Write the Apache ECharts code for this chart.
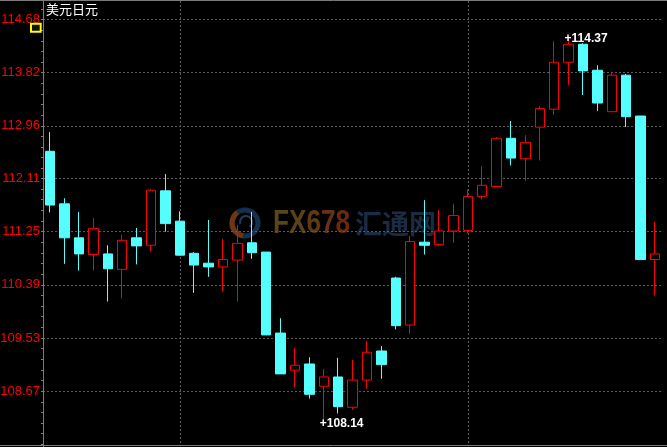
<!DOCTYPE html>
<html><head><meta charset="utf-8">
<script src="https://cdn.jsdelivr.net/npm/echarts@6/dist/echarts.min.js"></script>
<style>html,body{margin:0;padding:0;background:#000}#c{width:667px;height:447px}</style>
</head><body><div id="c"></div>
<script>
const chartTitle = '美元日元';
const categories = ['1','2','3','4','5','6','7','8','9','10','11','12','13','14','15','16','17','18','19','20','21','22','23','24','25','26','27','28','29','30','31','32','33','34','35','36','37','38','39','40','41','42','43'];
const opens  = [112.55,111.70,111.15,110.88,110.89,110.64,111.15,111.03,111.91,111.42,110.90,110.74,110.68,110.79,111.07,110.92,109.61,109.01,109.11,108.75,108.90,108.41,108.85,109.32,110.50,109.74,111.08,111.04,111.26,111.27,111.82,111.98,112.76,112.43,112.94,113.23,113.99,114.28,113.86,113.19,113.78,113.12,110.80];
const closes = [111.68,111.15,110.89,111.30,110.65,111.11,111.02,111.92,111.38,110.87,110.71,110.68,110.80,111.06,110.91,109.58,108.95,109.09,108.62,108.90,108.42,108.85,109.30,109.10,109.73,111.09,111.03,111.26,111.51,111.82,112.00,112.76,112.44,112.69,113.24,113.99,114.28,113.85,113.33,113.78,113.11,110.80,110.89];
const lows   = [111.56,110.73,110.62,110.62,110.12,110.17,110.72,110.93,111.25,110.86,110.26,110.52,110.28,110.12,110.81,109.58,108.95,108.73,108.55,108.14,108.31,108.37,108.71,108.87,109.67,109.60,110.88,111.02,111.07,111.22,111.77,111.98,112.32,112.07,112.40,113.14,113.62,113.46,113.20,113.19,112.94,110.80,110.22];
const highs  = [112.86,111.79,111.57,111.47,111.03,111.20,111.31,111.94,112.18,111.58,110.92,111.44,111.13,111.36,111.57,110.92,109.85,109.37,109.22,109.03,109.21,109.18,109.48,109.40,110.52,111.18,111.76,111.60,111.70,111.93,112.31,112.78,113.04,112.81,113.28,114.33,114.37,114.30,113.94,113.84,113.80,113.12,111.41];
const yTickLabels = ['114.68','113.82','112.96','112.11','111.25','110.39','109.53','108.67'];
const vGridIndex = [9, 29];
const yMin = 107.80, yMax = 114.98;

const yTicks = yTickLabels.map(Number);
const minorTicks = [];
const nT = yTicks.length;
const minorStep = (yTicks[0] - yTicks[nT - 1]) / (nT - 1) / 5;
for (let v = yTicks[nT - 1] - minorStep; v > yMin; v -= minorStep) minorTicks.push(+v.toFixed(4));
for (let i = 0; i < nT - 1; i++) {
  for (let k = 0; k < 5; k++) minorTicks.push(+(yTicks[i + 1] + (yTicks[i] - yTicks[i + 1]) * k / 5).toFixed(4));
}
for (let v = yTicks[0]; v < yMax; v += minorStep) minorTicks.push(+v.toFixed(4));

const kData = categories.map((c, i) => [opens[i], closes[i], lows[i], highs[i]]);
let maxIdx = 0, minIdx = 0;
highs.forEach((v, i) => { if (v > highs[maxIdx]) maxIdx = i; });
lows.forEach((v, i) => { if (v < lows[minIdx]) minIdx = i; });

const chart = echarts.init(document.getElementById('c'), null, {renderer: 'canvas'});
const grid = {left: 43, right: 4.8, top: 1, bottom: 2, outerBoundsMode: 'none', containLabel: false};
const gridStyle = {color: '#5c5c5c', width: 1, type: [2, 2]};
const labelFont = '"Liberation Sans", Arial, sans-serif';

chart.setOption({
  animation: false,
  backgroundColor: '#000000',
  grid: grid,
  xAxis: [
    {type: 'category', data: categories, gridIndex: 0, boundaryGap: true,
     axisLine: {show: false}, axisTick: {show: false}, axisLabel: {show: false}, splitLine: {show: false}},
    {type: 'value', gridIndex: 0, position: 'top', min: -0.5, max: categories.length - 0.5,
     axisLine: {show: false}, axisLabel: {show: false},
     axisTick: {show: false, customValues: vGridIndex},
     splitLine: {show: true, lineStyle: gridStyle}}
  ],
  yAxis: [
    {type: 'value', min: yMin, max: yMax, position: 'left',
     axisLine: {show: false},
     axisTick: {show: false, customValues: yTicks},
     axisLabel: {show: true, customValues: yTicks, margin: 3, color: '#ff0000',
                 fontSize: 13, fontFamily: labelFont,
                 formatter: v => yTickLabels[yTicks.indexOf(v)] || v.toFixed(2)},
     splitLine: {show: true, lineStyle: gridStyle}},
    {type: 'value', min: yMin, max: yMax, position: 'left',
     axisLine: {show: false}, axisLabel: {show: false}, splitLine: {show: false},
     axisTick: {show: true, inside: false, length: 2, customValues: minorTicks,
                lineStyle: {color: '#808080', width: 1}}}
  ],
  series: [{
    type: 'candlestick', xAxisIndex: 0, yAxisIndex: 0,
    data: kData, barWidth: 10,
    itemStyle: {color: '#000000', color0: '#55ffff', borderColor: '#ff0000', borderColor0: '#55ffff', borderWidth: 1},
    emphasis: {disabled: true},
    markPoint: {
      symbol: 'rect', symbolSize: 1,
      itemStyle: {color: 'rgba(0,0,0,0)'},
      label: {show: true, position: 'inside', align: 'left', verticalAlign: 'middle', offset: [-4, 0],
              color: '#ffffff', fontWeight: 'bold', fontSize: 12, fontFamily: 'Arial, "Liberation Sans", sans-serif',
              formatter: p => '+' + Number(p.value).toFixed(2)},
      data: [
        {coord: [categories[maxIdx], highs[maxIdx]], value: highs[maxIdx]},
        {coord: [categories[minIdx], lows[minIdx]], value: lows[minIdx]}
      ]
    }
  }],
  graphic: [
    {type: 'group', z: -10, silent: true, children: [
      {type: 'circle', shape: {cx: 245, cy: 223, r: 13}, style: {fill: 'none', stroke: '#14304c', lineWidth: 5}},
      {type: 'arc', shape: {cx: 245, cy: 223, r: 13, startAngle: Math.PI * 0.55, endAngle: Math.PI * 1.3},
       style: {fill: 'none', stroke: '#6e3612', lineWidth: 5}},
      {type: 'arc', shape: {cx: 246, cy: 222, r: 6, startAngle: Math.PI * 0.9, endAngle: Math.PI * 2.3},
       style: {fill: 'none', stroke: '#1f3d5c', lineWidth: 2}},
      {type: 'text', x: 273, y: 224, scaleX: 0.77, originX: 0,
       style: {text: '{a|F}{b|X}{c|6}{d|7}{e|8}', font: 'bold 34px Arial, "Liberation Sans", sans-serif', verticalAlign: 'middle',
         rich: {
           a: {fill: '#574718', font: 'bold 34px Arial, "Liberation Sans", sans-serif'},
           b: {fill: '#5a4118', font: 'bold 34px Arial, "Liberation Sans", sans-serif'},
           c: {fill: '#5e3a16', font: 'bold 34px Arial, "Liberation Sans", sans-serif'},
           d: {fill: '#653214', font: 'bold 34px Arial, "Liberation Sans", sans-serif'},
           e: {fill: '#6a2a10', font: 'bold 34px Arial, "Liberation Sans", sans-serif'}
         }}},
      {type: 'text', x: 355, y: 224, style: {text: '汇通网', font: 'bold 27px "Noto Sans CJK SC"', verticalAlign: 'middle', fill: '#1a2c44'}}
    ]},
    {type: 'text', x: 46, y: 9, z: 100, silent: true,
     style: {text: chartTitle, font: '13px "Noto Sans CJK SC"', fill: '#ffffff', verticalAlign: 'middle'}},
    {type: 'rect', z: 100, silent: true, shape: {x: 31, y: 23.7, width: 9.7, height: 8},
     style: {fill: '#111111', stroke: '#ffff00', lineWidth: 2}},
    {type: 'line', z: 100, silent: true, shape: {x1: 0, y1: 0.5, x2: 667, y2: 0.5}, style: {stroke: '#7a7a7a', lineWidth: 1}},
    {type: 'line', z: 100, silent: true, shape: {x1: 0, y1: 445.5, x2: 667, y2: 445.5}, style: {stroke: '#7a7a7a', lineWidth: 1}},
    {type: 'line', z: 100, silent: true, shape: {x1: 43.5, y1: 0, x2: 43.5, y2: 447}, style: {stroke: '#7a7a7a', lineWidth: 1}}
  ]
});
</script>
</body></html>
